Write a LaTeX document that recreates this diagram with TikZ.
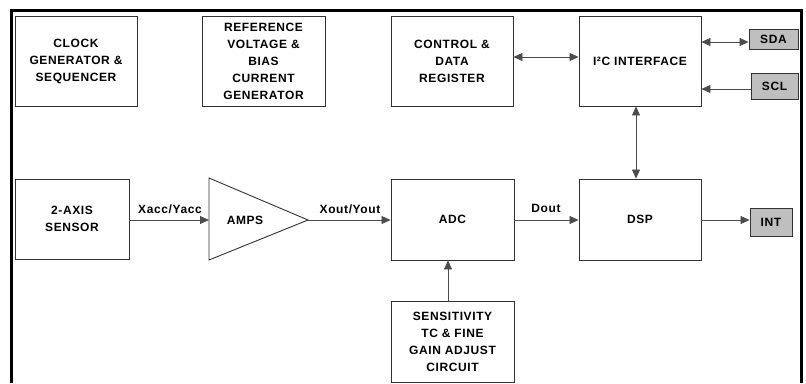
\documentclass[tikz,border=0pt]{standalone}
\usepackage{fontspec}
\setmainfont[LetterSpace=5]{Liberation Sans}
\usepackage{tikz}
\usetikzlibrary{arrows.meta,positioning}

\begin{document}
\begin{tikzpicture}[
    x=1pt, y=-1pt,
    every node/.style={font=\fontsize{12}{17}\selectfont\bfseries},
    block/.style={draw=black!80, line width=0.9pt, minimum width=122pt, minimum height=90pt, align=center, inner sep=0pt},
    pinbox/.style={draw=black!80, line width=0.9pt, fill=black!25, align=center, inner sep=0pt},
    arr/.style={-{Triangle[length=9pt,width=8pt]}, draw=black!70, line width=0.8pt},
    barr/.style={{Triangle[length=9pt,width=8pt]}-{Triangle[length=9pt,width=8pt]}, draw=black!70, line width=0.8pt},
]
\useasboundingbox (0,0) rectangle (806,383);

% Frame (open at the bottom)
\draw[line width=2.6pt] (11.3,383) -- (11.3,10.7) -- (801.5,10.7) -- (801.5,383);

% Top row
\node[block] (clock) at (76, 61) {CLOCK\\GENERATOR \&\\SEQUENCER};
\node[block, minimum width=123pt] (ref) at (263.5, 61) {REFERENCE\\VOLTAGE \&\\BIAS\\CURRENT\\GENERATOR};
\node[block] (ctrl) at (452, 61) {CONTROL \&\\DATA\\REGISTER};
\node[block] (i2c) at (640, 61) {I²C INTERFACE};

% Pins on the right
\node[pinbox, minimum width=49pt, minimum height=20pt] (sda) at (773.5, 39) {SDA};
\node[pinbox, minimum width=47pt, minimum height=26pt] (scl) at (774.5, 86) {SCL};
\node[pinbox, minimum width=42pt, minimum height=28pt] (int) at (771, 222) {INT};

% Signal chain
\node[block, minimum width=114pt, minimum height=80pt] (sensor) at (72, 219) {2-AXIS\\SENSOR};
\draw[draw=black!80, line width=0.9pt] (209,178) -- (308,220) -- (209,260) -- cycle;
\node (amps) at (245, 220) {AMPS};
\coordinate (ampsin) at (209, 220);
\coordinate (ampsout) at (308, 220);
\node[block, minimum width=123pt, minimum height=81pt] (adc) at (452.5, 219.5) {ADC};
\node[block, minimum height=81pt] (dsp) at (640, 219.5) {DSP};
\node[block, minimum width=123pt, minimum height=81pt] (sens) at (452.5, 341.5) {SENSITIVITY\\TC \& FINE\\GAIN ADJUST\\CIRCUIT};

% Labels on the signal lines
\node (xacc) at (170, 209) {Xacc/Yacc};
\node (xout) at (350, 209) {Xout/Yout};
\node (dout) at (546, 208) {Dout};

% Connectors
\coordinate (sdain) at ([yshift=-3pt]sda.west);
\coordinate (sclin) at ([yshift=-3pt]scl.west);
\draw[barr] ([yshift=4pt]ctrl.east) -- ([yshift=4pt]i2c.west);
\draw[barr] (i2c.east |- sdain) -- (sdain);
\draw[arr] (sclin) -- (i2c.east |- sclin);
\draw[barr] ([xshift=-4pt]i2c.south) -- ([xshift=-4pt]dsp.north);
\draw[arr] (sensor.east |- ampsin) -- (ampsin);
\draw[arr] (ampsout) -- (adc.west |- ampsout);
\draw[arr] (adc.east |- ampsout) -- (dsp.west |- ampsout);
\draw[arr] (dsp.east |- ampsout) -- (int.west |- ampsout);
\draw[arr] ([xshift=-4.5pt]sens.north) -- ([xshift=-4.5pt]adc.south);

\end{tikzpicture}
\end{document}
